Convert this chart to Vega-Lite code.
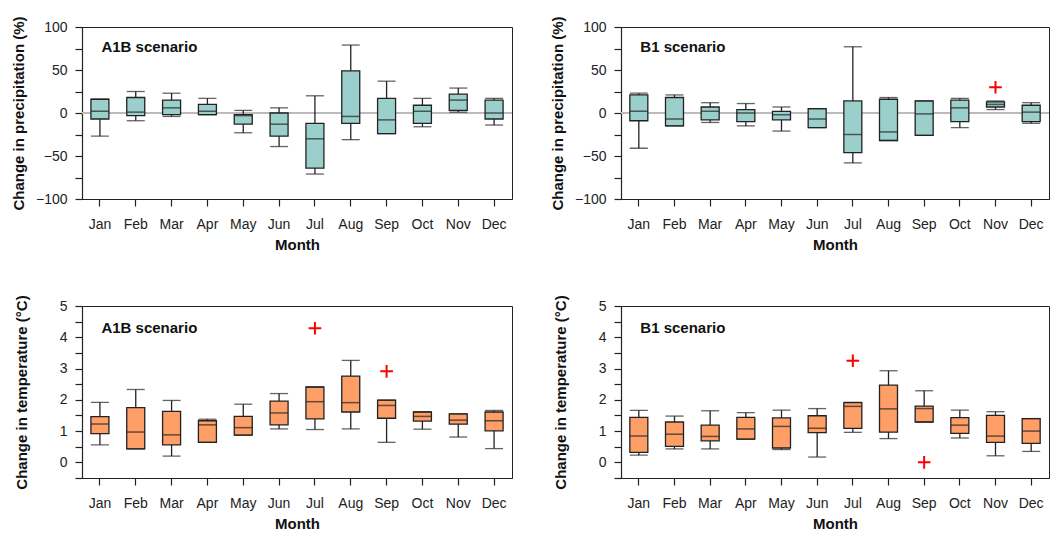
{
  "$schema": "https://vega.github.io/schema/vega-lite/v6.json",
  "padding": {"left": 10, "top": 15, "right": 0, "bottom": 0},
  "background": "white",
  "datasets": {
    "stats": [
      {"var": "precip", "scenario": "A1B", "month": "Jan", "low": -27, "q1": -7, "med": 2, "q3": 16, "high": 16},
      {"var": "precip", "scenario": "A1B", "month": "Feb", "low": -9, "q1": -3, "med": 1, "q3": 18, "high": 25},
      {"var": "precip", "scenario": "A1B", "month": "Mar", "low": -4, "q1": -2, "med": 6, "q3": 15, "high": 23},
      {"var": "precip", "scenario": "A1B", "month": "Apr", "low": -2, "q1": -2, "med": 2, "q3": 10, "high": 17},
      {"var": "precip", "scenario": "A1B", "month": "May", "low": -23, "q1": -13, "med": -3, "q3": -2, "high": 3},
      {"var": "precip", "scenario": "A1B", "month": "Jun", "low": -39, "q1": -27, "med": -13, "q3": 0, "high": 6},
      {"var": "precip", "scenario": "A1B", "month": "Jul", "low": -71, "q1": -64, "med": -30, "q3": -12, "high": 20},
      {"var": "precip", "scenario": "A1B", "month": "Aug", "low": -31, "q1": -12, "med": -4, "q3": 49, "high": 79},
      {"var": "precip", "scenario": "A1B", "month": "Sep", "low": -24, "q1": -24, "med": -8, "q3": 17, "high": 37},
      {"var": "precip", "scenario": "A1B", "month": "Oct", "low": -16, "q1": -12, "med": 2, "q3": 9, "high": 17},
      {"var": "precip", "scenario": "A1B", "month": "Nov", "low": 1, "q1": 3, "med": 15, "q3": 22, "high": 29},
      {"var": "precip", "scenario": "A1B", "month": "Dec", "low": -14, "q1": -7, "med": 0, "q3": 15, "high": 17},
      {"var": "precip", "scenario": "B1", "month": "Jan", "low": -41, "q1": -9, "med": 2, "q3": 21, "high": 23},
      {"var": "precip", "scenario": "B1", "month": "Feb", "low": -15, "q1": -15, "med": -7, "q3": 18, "high": 21},
      {"var": "precip", "scenario": "B1", "month": "Mar", "low": -11, "q1": -8, "med": 2, "q3": 7, "high": 12},
      {"var": "precip", "scenario": "B1", "month": "Apr", "low": -15, "q1": -10, "med": 0, "q3": 4, "high": 11},
      {"var": "precip", "scenario": "B1", "month": "May", "low": -21, "q1": -8, "med": -2, "q3": 2, "high": 7},
      {"var": "precip", "scenario": "B1", "month": "Jun", "low": -17, "q1": -17, "med": -7, "q3": 5, "high": 5},
      {"var": "precip", "scenario": "B1", "month": "Jul", "low": -58, "q1": -46, "med": -25, "q3": 14, "high": 77},
      {"var": "precip", "scenario": "B1", "month": "Aug", "low": -32, "q1": -32, "med": -22, "q3": 16, "high": 18},
      {"var": "precip", "scenario": "B1", "month": "Sep", "low": -26, "q1": -26, "med": -1, "q3": 14, "high": 14},
      {"var": "precip", "scenario": "B1", "month": "Oct", "low": -17, "q1": -10, "med": 6, "q3": 15, "high": 17},
      {"var": "precip", "scenario": "B1", "month": "Nov", "low": 4, "q1": 7, "med": 10, "q3": 13, "high": 14},
      {"var": "precip", "scenario": "B1", "month": "Dec", "low": -12, "q1": -10, "med": 1, "q3": 9, "high": 12},
      {"var": "temp", "scenario": "A1B", "month": "Jan", "low": 0.56, "q1": 0.92, "med": 1.23, "q3": 1.46, "high": 1.92},
      {"var": "temp", "scenario": "A1B", "month": "Feb", "low": 0.43, "q1": 0.43, "med": 0.97, "q3": 1.75, "high": 2.33},
      {"var": "temp", "scenario": "A1B", "month": "Mar", "low": 0.2, "q1": 0.56, "med": 0.88, "q3": 1.63, "high": 1.98},
      {"var": "temp", "scenario": "A1B", "month": "Apr", "low": 0.64, "q1": 0.64, "med": 1.2, "q3": 1.33, "high": 1.38},
      {"var": "temp", "scenario": "A1B", "month": "May", "low": 0.87, "q1": 0.87, "med": 1.11, "q3": 1.47, "high": 1.86},
      {"var": "temp", "scenario": "A1B", "month": "Jun", "low": 1.07, "q1": 1.2, "med": 1.58, "q3": 1.96, "high": 2.2},
      {"var": "temp", "scenario": "A1B", "month": "Jul", "low": 1.05, "q1": 1.39, "med": 1.94, "q3": 2.41, "high": 2.41},
      {"var": "temp", "scenario": "A1B", "month": "Aug", "low": 1.07, "q1": 1.61, "med": 1.91, "q3": 2.76, "high": 3.26},
      {"var": "temp", "scenario": "A1B", "month": "Sep", "low": 0.64, "q1": 1.41, "med": 1.82, "q3": 1.99, "high": 1.99},
      {"var": "temp", "scenario": "A1B", "month": "Oct", "low": 1.06, "q1": 1.32, "med": 1.47, "q3": 1.61, "high": 1.62},
      {"var": "temp", "scenario": "A1B", "month": "Nov", "low": 0.81, "q1": 1.22, "med": 1.35, "q3": 1.55, "high": 1.55},
      {"var": "temp", "scenario": "A1B", "month": "Dec", "low": 0.44, "q1": 1.01, "med": 1.33, "q3": 1.61, "high": 1.66},
      {"var": "temp", "scenario": "B1", "month": "Jan", "low": 0.23, "q1": 0.32, "med": 0.84, "q3": 1.44, "high": 1.66},
      {"var": "temp", "scenario": "B1", "month": "Feb", "low": 0.43, "q1": 0.51, "med": 0.9, "q3": 1.29, "high": 1.48},
      {"var": "temp", "scenario": "B1", "month": "Mar", "low": 0.43, "q1": 0.69, "med": 0.83, "q3": 1.19, "high": 1.65},
      {"var": "temp", "scenario": "B1", "month": "Apr", "low": 0.74, "q1": 0.74, "med": 1.07, "q3": 1.44, "high": 1.59},
      {"var": "temp", "scenario": "B1", "month": "May", "low": 0.41, "q1": 0.46, "med": 1.15, "q3": 1.42, "high": 1.67},
      {"var": "temp", "scenario": "B1", "month": "Jun", "low": 0.17, "q1": 0.95, "med": 1.09, "q3": 1.49, "high": 1.72},
      {"var": "temp", "scenario": "B1", "month": "Jul", "low": 0.96, "q1": 1.09, "med": 1.79, "q3": 1.91, "high": 1.92},
      {"var": "temp", "scenario": "B1", "month": "Aug", "low": 0.76, "q1": 0.97, "med": 1.71, "q3": 2.47, "high": 2.93},
      {"var": "temp", "scenario": "B1", "month": "Sep", "low": 1.29, "q1": 1.29, "med": 1.72, "q3": 1.8, "high": 2.29},
      {"var": "temp", "scenario": "B1", "month": "Oct", "low": 0.78, "q1": 0.93, "med": 1.19, "q3": 1.43, "high": 1.67},
      {"var": "temp", "scenario": "B1", "month": "Nov", "low": 0.21, "q1": 0.64, "med": 0.84, "q3": 1.5, "high": 1.62},
      {"var": "temp", "scenario": "B1", "month": "Dec", "low": 0.35, "q1": 0.61, "med": 1.0, "q3": 1.4, "high": 1.4}
    ],
    "outliers": [
      {"var": "precip", "scenario": "B1", "month": "Nov", "value": 30},
      {"var": "temp", "scenario": "A1B", "month": "Jul", "value": 4.29},
      {"var": "temp", "scenario": "A1B", "month": "Sep", "value": 2.91},
      {"var": "temp", "scenario": "B1", "month": "Jul", "value": 3.25},
      {"var": "temp", "scenario": "B1", "month": "Sep", "value": 0.0}
    ],
    "labels": [
      {"var": "precip", "scenario": "A1B", "label": "A1B scenario"},
      {"var": "precip", "scenario": "B1", "label": "B1 scenario"},
      {"var": "temp", "scenario": "A1B", "label": "A1B scenario"},
      {"var": "temp", "scenario": "B1", "label": "B1 scenario"}
    ]
  },
  "columns": 2,
  "spacing": {"row": 107, "column": 109},
  "bounds": "flush",
  "concat": [
    {
      "width": 430, "height": 172,
      "layer": [
        {"data": {"name": "stats"}, "transform": [{"filter": "datum.var === 'precip' && datum.scenario === 'A1B'"}],
         "mark": {"type": "rule", "color": "#bbbbbb", "strokeWidth": 1.5},
         "encoding": {"y": {"datum": 0, "type": "quantitative", "scale": {"domain": [-100, 100], "nice": false}, "axis": {"title": "Change in precipitation (%)", "values": [-100, -75, -50, -25, 0, 25, 50, 75, 100], "tickCount": 20, "labelExpr": "datum.value % 50 === 0 ? datum.label : ''", "labelOverlap": false, "titlePadding": 9}}}},
        {"data": {"name": "stats"}, "transform": [{"filter": "datum.var === 'precip' && datum.scenario === 'A1B'"}],
         "layer": [
           {"mark": {"type": "rule", "color": "#222222", "strokeWidth": 1.3},
            "encoding": {"x": {"field": "month", "type": "ordinal", "sort": ["Jan","Feb","Mar","Apr","May","Jun","Jul","Aug","Sep","Oct","Nov","Dec"], "scale": {"paddingInner": 0, "paddingOuter": 0}, "axis": {"title": "Month"}},
                         "y": {"field": "low", "type": "quantitative"}, "y2": {"field": "high"}}},
           {"mark": {"type": "bar", "size": 18, "fill": "#9bcfcb", "stroke": "#222222", "strokeWidth": 1.3},
            "encoding": {"x": {"field": "month", "type": "ordinal", "sort": ["Jan","Feb","Mar","Apr","May","Jun","Jul","Aug","Sep","Oct","Nov","Dec"]},
                         "y": {"field": "q1", "type": "quantitative"}, "y2": {"field": "q3"}}},
           {"mark": {"type": "tick", "size": 18, "thickness": 1.5, "color": "#222222", "orient": "horizontal"},
            "encoding": {"x": {"field": "month", "type": "ordinal", "sort": ["Jan","Feb","Mar","Apr","May","Jun","Jul","Aug","Sep","Oct","Nov","Dec"]},
                         "y": {"field": "med", "type": "quantitative"}}},
           {"mark": {"type": "tick", "size": 18, "thickness": 1.3, "color": "#222222", "orient": "horizontal"},
            "encoding": {"x": {"field": "month", "type": "ordinal", "sort": ["Jan","Feb","Mar","Apr","May","Jun","Jul","Aug","Sep","Oct","Nov","Dec"]},
                         "y": {"field": "low", "type": "quantitative"}}},
           {"mark": {"type": "tick", "size": 18, "thickness": 1.3, "color": "#222222", "orient": "horizontal"},
            "encoding": {"x": {"field": "month", "type": "ordinal", "sort": ["Jan","Feb","Mar","Apr","May","Jun","Jul","Aug","Sep","Oct","Nov","Dec"]},
                         "y": {"field": "high", "type": "quantitative"}}}
         ]},
        {"data": {"name": "labels"}, "transform": [{"filter": "datum.var === 'precip' && datum.scenario === 'A1B'"}],
         "mark": {"type": "text", "align": "left", "baseline": "alphabetic", "fontSize": 15, "fontWeight": "bold", "color": "#111111", "dx": 1.5},
         "encoding": {"x": {"datum": "Jan", "type": "ordinal"}, "y": {"datum": 71, "type": "quantitative"}, "text": {"field": "label"}}}
      ]
    },
    {
      "width": 428, "height": 172,
      "layer": [
        {"data": {"name": "stats"}, "transform": [{"filter": "datum.var === 'precip' && datum.scenario === 'B1'"}],
         "mark": {"type": "rule", "color": "#bbbbbb", "strokeWidth": 1.5},
         "encoding": {"y": {"datum": 0, "type": "quantitative", "scale": {"domain": [-100, 100], "nice": false}, "axis": {"title": "Change in precipitation (%)", "values": [-100, -75, -50, -25, 0, 25, 50, 75, 100], "tickCount": 20, "labelExpr": "datum.value % 50 === 0 ? datum.label : ''", "labelOverlap": false, "titlePadding": 9}}}},
        {"data": {"name": "stats"}, "transform": [{"filter": "datum.var === 'precip' && datum.scenario === 'B1'"}],
         "layer": [
           {"mark": {"type": "rule", "color": "#222222", "strokeWidth": 1.3},
            "encoding": {"x": {"field": "month", "type": "ordinal", "sort": ["Jan","Feb","Mar","Apr","May","Jun","Jul","Aug","Sep","Oct","Nov","Dec"], "scale": {"paddingInner": 0, "paddingOuter": 0}, "axis": {"title": "Month"}},
                         "y": {"field": "low", "type": "quantitative"}, "y2": {"field": "high"}}},
           {"mark": {"type": "bar", "size": 18, "fill": "#9bcfcb", "stroke": "#222222", "strokeWidth": 1.3},
            "encoding": {"x": {"field": "month", "type": "ordinal", "sort": ["Jan","Feb","Mar","Apr","May","Jun","Jul","Aug","Sep","Oct","Nov","Dec"]},
                         "y": {"field": "q1", "type": "quantitative"}, "y2": {"field": "q3"}}},
           {"mark": {"type": "tick", "size": 18, "thickness": 1.5, "color": "#222222", "orient": "horizontal"},
            "encoding": {"x": {"field": "month", "type": "ordinal", "sort": ["Jan","Feb","Mar","Apr","May","Jun","Jul","Aug","Sep","Oct","Nov","Dec"]},
                         "y": {"field": "med", "type": "quantitative"}}},
           {"mark": {"type": "tick", "size": 18, "thickness": 1.3, "color": "#222222", "orient": "horizontal"},
            "encoding": {"x": {"field": "month", "type": "ordinal", "sort": ["Jan","Feb","Mar","Apr","May","Jun","Jul","Aug","Sep","Oct","Nov","Dec"]},
                         "y": {"field": "low", "type": "quantitative"}}},
           {"mark": {"type": "tick", "size": 18, "thickness": 1.3, "color": "#222222", "orient": "horizontal"},
            "encoding": {"x": {"field": "month", "type": "ordinal", "sort": ["Jan","Feb","Mar","Apr","May","Jun","Jul","Aug","Sep","Oct","Nov","Dec"]},
                         "y": {"field": "high", "type": "quantitative"}}}
         ]},
        {"data": {"name": "outliers"}, "transform": [{"filter": "datum.var === 'precip' && datum.scenario === 'B1'"}],
         "mark": {"type": "point", "shape": "M-1,0H1M0,-1V1", "filled": false, "stroke": "#ff0000", "strokeWidth": 2, "size": 160, "opacity": 1},
         "encoding": {"x": {"field": "month", "type": "ordinal", "sort": ["Jan","Feb","Mar","Apr","May","Jun","Jul","Aug","Sep","Oct","Nov","Dec"]}, "y": {"field": "value", "type": "quantitative"}}},
        {"data": {"name": "labels"}, "transform": [{"filter": "datum.var === 'precip' && datum.scenario === 'B1'"}],
         "mark": {"type": "text", "align": "left", "baseline": "alphabetic", "fontSize": 15, "fontWeight": "bold", "color": "#111111", "dx": 1.5},
         "encoding": {"x": {"datum": "Jan", "type": "ordinal"}, "y": {"datum": 71, "type": "quantitative"}, "text": {"field": "label"}}}
      ]
    },
    {
      "width": 430, "height": 172,
      "layer": [
        {"data": {"name": "stats"}, "transform": [{"filter": "datum.var === 'temp' && datum.scenario === 'A1B'"}],
         "layer": [
           {"mark": {"type": "rule", "color": "#222222", "strokeWidth": 1.3},
            "encoding": {"x": {"field": "month", "type": "ordinal", "sort": ["Jan","Feb","Mar","Apr","May","Jun","Jul","Aug","Sep","Oct","Nov","Dec"], "scale": {"paddingInner": 0, "paddingOuter": 0}, "axis": {"title": "Month"}},
                         "y": {"field": "low", "type": "quantitative", "scale": {"domain": [-0.5, 5], "nice": false}, "axis": {"title": "Change in temperature (°C)", "values": [-0.5, 0, 0.5, 1, 1.5, 2, 2.5, 3, 3.5, 4, 4.5, 5], "tickCount": 20, "format": "~g", "labelExpr": "datum.value % 1 === 0 ? datum.label : ''", "labelOverlap": false, "titlePadding": 30}}, "y2": {"field": "high"}}},
           {"mark": {"type": "bar", "size": 18, "fill": "#ff9f68", "stroke": "#222222", "strokeWidth": 1.3},
            "encoding": {"x": {"field": "month", "type": "ordinal", "sort": ["Jan","Feb","Mar","Apr","May","Jun","Jul","Aug","Sep","Oct","Nov","Dec"]},
                         "y": {"field": "q1", "type": "quantitative"}, "y2": {"field": "q3"}}},
           {"mark": {"type": "tick", "size": 18, "thickness": 1.5, "color": "#222222", "orient": "horizontal"},
            "encoding": {"x": {"field": "month", "type": "ordinal", "sort": ["Jan","Feb","Mar","Apr","May","Jun","Jul","Aug","Sep","Oct","Nov","Dec"]},
                         "y": {"field": "med", "type": "quantitative"}}},
           {"mark": {"type": "tick", "size": 18, "thickness": 1.3, "color": "#222222", "orient": "horizontal"},
            "encoding": {"x": {"field": "month", "type": "ordinal", "sort": ["Jan","Feb","Mar","Apr","May","Jun","Jul","Aug","Sep","Oct","Nov","Dec"]},
                         "y": {"field": "low", "type": "quantitative"}}},
           {"mark": {"type": "tick", "size": 18, "thickness": 1.3, "color": "#222222", "orient": "horizontal"},
            "encoding": {"x": {"field": "month", "type": "ordinal", "sort": ["Jan","Feb","Mar","Apr","May","Jun","Jul","Aug","Sep","Oct","Nov","Dec"]},
                         "y": {"field": "high", "type": "quantitative"}}}
         ]},
        {"data": {"name": "outliers"}, "transform": [{"filter": "datum.var === 'temp' && datum.scenario === 'A1B'"}],
         "mark": {"type": "point", "shape": "M-1,0H1M0,-1V1", "filled": false, "stroke": "#ff0000", "strokeWidth": 2, "size": 160, "opacity": 1},
         "encoding": {"x": {"field": "month", "type": "ordinal", "sort": ["Jan","Feb","Mar","Apr","May","Jun","Jul","Aug","Sep","Oct","Nov","Dec"]}, "y": {"field": "value", "type": "quantitative"}}},
        {"data": {"name": "labels"}, "transform": [{"filter": "datum.var === 'temp' && datum.scenario === 'A1B'"}],
         "mark": {"type": "text", "align": "left", "baseline": "alphabetic", "fontSize": 15, "fontWeight": "bold", "color": "#111111", "dx": 1.5},
         "encoding": {"x": {"datum": "Jan", "type": "ordinal"}, "y": {"datum": 4.15, "type": "quantitative"}, "text": {"field": "label"}}}
      ]
    },
    {
      "width": 428, "height": 172,
      "layer": [
        {"data": {"name": "stats"}, "transform": [{"filter": "datum.var === 'temp' && datum.scenario === 'B1'"}],
         "layer": [
           {"mark": {"type": "rule", "color": "#222222", "strokeWidth": 1.3},
            "encoding": {"x": {"field": "month", "type": "ordinal", "sort": ["Jan","Feb","Mar","Apr","May","Jun","Jul","Aug","Sep","Oct","Nov","Dec"], "scale": {"paddingInner": 0, "paddingOuter": 0}, "axis": {"title": "Month"}},
                         "y": {"field": "low", "type": "quantitative", "scale": {"domain": [-0.5, 5], "nice": false}, "axis": {"title": "Change in temperature (°C)", "values": [-0.5, 0, 0.5, 1, 1.5, 2, 2.5, 3, 3.5, 4, 4.5, 5], "tickCount": 20, "format": "~g", "labelExpr": "datum.value % 1 === 0 ? datum.label : ''", "labelOverlap": false, "titlePadding": 30}}, "y2": {"field": "high"}}},
           {"mark": {"type": "bar", "size": 18, "fill": "#ff9f68", "stroke": "#222222", "strokeWidth": 1.3},
            "encoding": {"x": {"field": "month", "type": "ordinal", "sort": ["Jan","Feb","Mar","Apr","May","Jun","Jul","Aug","Sep","Oct","Nov","Dec"]},
                         "y": {"field": "q1", "type": "quantitative"}, "y2": {"field": "q3"}}},
           {"mark": {"type": "tick", "size": 18, "thickness": 1.5, "color": "#222222", "orient": "horizontal"},
            "encoding": {"x": {"field": "month", "type": "ordinal", "sort": ["Jan","Feb","Mar","Apr","May","Jun","Jul","Aug","Sep","Oct","Nov","Dec"]},
                         "y": {"field": "med", "type": "quantitative"}}},
           {"mark": {"type": "tick", "size": 18, "thickness": 1.3, "color": "#222222", "orient": "horizontal"},
            "encoding": {"x": {"field": "month", "type": "ordinal", "sort": ["Jan","Feb","Mar","Apr","May","Jun","Jul","Aug","Sep","Oct","Nov","Dec"]},
                         "y": {"field": "low", "type": "quantitative"}}},
           {"mark": {"type": "tick", "size": 18, "thickness": 1.3, "color": "#222222", "orient": "horizontal"},
            "encoding": {"x": {"field": "month", "type": "ordinal", "sort": ["Jan","Feb","Mar","Apr","May","Jun","Jul","Aug","Sep","Oct","Nov","Dec"]},
                         "y": {"field": "high", "type": "quantitative"}}}
         ]},
        {"data": {"name": "outliers"}, "transform": [{"filter": "datum.var === 'temp' && datum.scenario === 'B1'"}],
         "mark": {"type": "point", "shape": "M-1,0H1M0,-1V1", "filled": false, "stroke": "#ff0000", "strokeWidth": 2, "size": 160, "opacity": 1},
         "encoding": {"x": {"field": "month", "type": "ordinal", "sort": ["Jan","Feb","Mar","Apr","May","Jun","Jul","Aug","Sep","Oct","Nov","Dec"]}, "y": {"field": "value", "type": "quantitative"}}},
        {"data": {"name": "labels"}, "transform": [{"filter": "datum.var === 'temp' && datum.scenario === 'B1'"}],
         "mark": {"type": "text", "align": "left", "baseline": "alphabetic", "fontSize": 15, "fontWeight": "bold", "color": "#111111", "dx": 1.5},
         "encoding": {"x": {"datum": "Jan", "type": "ordinal"}, "y": {"datum": 4.15, "type": "quantitative"}, "text": {"field": "label"}}}
      ]
    }
  ],
  "config": {
    "font": "Liberation Sans",
    "view": {"stroke": "#222222", "strokeWidth": 1},
    "axis": {
      "grid": false, "domainColor": "#222222", "domainWidth": 1.2, "tickColor": "#222222", "tickWidth": 1.2, "tickSize": 7,
      "labelColor": "#222222", "labelFont": "Liberation Sans", "labelFontSize": 14, "labelPadding": 8,
      "titleColor": "#111111", "titleFont": "Liberation Sans", "titleFontSize": 15, "titleFontWeight": "bold"
    },
    "axisX": {"labelAngle": 0, "labelPadding": 11, "titlePadding": 6},
    "axisY": {"labelPadding": 8}
  }
}
